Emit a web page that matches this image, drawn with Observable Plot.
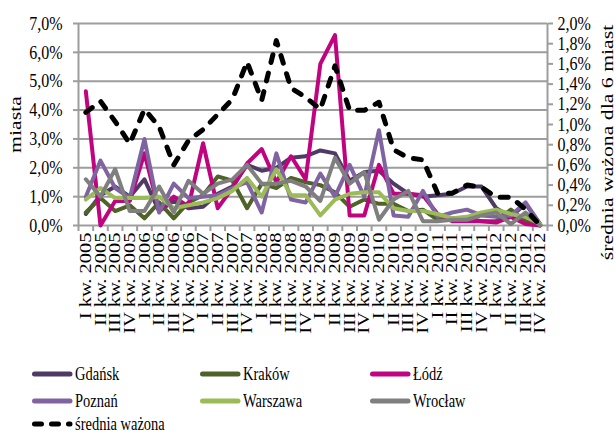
<!DOCTYPE html>
<html><head><meta charset="utf-8">
<script src="https://cdn.jsdelivr.net/npm/d3@7"></script>
<script src="https://cdn.jsdelivr.net/npm/@observablehq/plot@0.6"></script>
<style>
body{margin:0;background:#fff;width:616px;height:434px;overflow:hidden;position:relative;font-family:'Liberation Serif','Times New Roman',serif;}
#legend{position:absolute;left:0;top:0;width:616px;height:434px;}
.item{position:absolute;display:flex;align-items:center;height:20px;white-space:nowrap}
.item span{display:inline-block;font-size:14.5px;transform:scaleY(1.3);transform-origin:center;line-height:14px;margin-left:1px;color:#000}
</style></head><body>
<div id="chart"></div><div id="legend"></div>
<script>
const quarters = ["I kw. 2005","II kw. 2005","III kw. 2005","IV kw. 2005",
  "I kw. 2006","II kw. 2006","III kw. 2006","IV kw. 2006",
  "I kw. 2007","II kw. 2007","III kw. 2007","IV kw. 2007",
  "I kw. 2008","II kw. 2008","III kw. 2008","IV kw. 2008",
  "I kw. 2009","II kw. 2009","III kw. 2009","IV kw. 2009",
  "I kw. 2010","II kw. 2010","III kw. 2010","IV kw. 2010",
  "I kw. 2011","II kw. 2011","III kw. 2011","IV kw. 2011",
  "I kw. 2012","II kw. 2012","III kw. 2012","IV kw. 2012"];
const cities = ["Gdańsk","Kraków","Łódź","Poznań","Warszawa","Wrocław"];
const colors = ["#4f3a66","#4f6228","#c0047f","#8064a2","#9bbb59","#7f7f7f"];
const gdansk   = [0.4,1.05,1.35,1.0,1.6,0.5,0.85,0.6,0.65,1.1,1.35,2.1,1.9,2.0,2.35,2.4,2.6,2.5,1.55,1.85,1.9,1.45,1.1,1.0,1.05,1.1,1.35,1.35,0.6,0.3,0.75,0.05];
const krakow   = [0.45,0.95,0.5,0.7,0.25,0.8,0.25,0.8,1.05,1.7,1.55,0.6,1.45,1.3,1.65,1.5,1.4,1.15,0.65,0.9,0.75,0.75,0.5,0.55,0.2,0.25,0.25,0.15,0.15,0.55,0.15,0.0];
const lodz     = [4.65,0.0,0.85,0.85,2.5,0.5,1.0,0.65,2.85,0.6,1.3,2.15,2.65,1.5,2.4,1.6,5.6,6.6,0.35,0.35,2.1,1.1,1.1,1.05,0.4,0.15,0.15,0.15,0.1,0.3,0.05,0.0];
const poznan   = [1.0,2.25,1.3,0.95,3.0,0.45,1.45,0.95,1.0,1.05,1.3,1.5,0.45,2.5,0.9,0.8,1.8,1.0,2.1,1.0,3.3,0.35,0.3,1.2,0.3,0.45,0.55,0.35,0.3,0.35,0.8,0.05];
const warszawa = [0.9,1.3,0.95,0.95,0.95,1.0,0.6,0.7,0.8,0.95,1.2,1.65,1.0,1.95,1.05,1.05,0.35,0.9,1.1,1.15,1.15,0.6,0.5,0.5,0.4,0.25,0.3,0.45,0.55,0.4,0.3,0.05];
const wroclaw  = [1.6,1.0,1.95,0.5,0.5,1.35,0.45,1.55,1.1,1.45,1.6,2.1,1.45,1.45,1.55,1.35,0.85,2.35,1.45,1.85,0.2,0.9,1.2,0.15,0.15,0.2,0.2,0.35,0.45,0.05,0.45,0.0];
const average  = [1.12,1.23,1.03,0.81,1.15,0.98,0.6,0.84,0.95,1.1,1.25,1.62,1.24,1.83,1.36,1.27,1.15,1.58,1.14,1.14,1.22,0.75,0.67,0.65,0.32,0.32,0.4,0.38,0.28,0.28,0.16,0.0];
const averageLabel = "średnia ważona";
const leftTicks = [0,1,2,3,4,5,6,7];
const rightTicks = [0,0.2,0.4,0.6,0.8,1.0,1.2,1.4,1.6,1.8,2.0];
const leftTitle = "miasta";
const rightTitle = "średnia ważona dla 6 miast";

const series = [gdansk, krakow, lodz, poznan, warszawa, wroclaw];
const ratio = leftTicks[leftTicks.length-1] / rightTicks[rightTicks.length-1];
const rows = cities.flatMap((c,k) => series[k].map((v,i) => ({city:c, i, v})));
const avgRows = average.map((v,i) => ({i, v}));
const pct = v => v.toFixed(1).replace(".", ",") + "%";
const grid = "#9d9d9d";

const chart = Plot.plot({
  width: 616, height: 352,
  marginLeft: 78, marginRight: 69, marginTop: 23, marginBottom: 127,
  x: {type: "linear", domain: [0, quarters.length]},
  y: {domain: [0, leftTicks[leftTicks.length-1]]},
  color: {domain: cities, range: colors},
  style: {fontFamily: "'Liberation Serif','Times New Roman',serif", fontSize: "16px", background: "#fff", color: "#000", overflow: "visible"},
  marks: [
    Plot.ruleY(leftTicks, {stroke: grid, strokeWidth: 2}),
    Plot.ruleX([0, quarters.length], {stroke: grid, strokeWidth: 2}),
    Plot.axisY({ticks: leftTicks, tickFormat: pct, tickSize: 5, tickPadding: 11, stroke: grid, strokeWidth: 2, label: null}),
    Plot.axisY({anchor: "right", ticks: rightTicks.map(t => t * ratio), tickFormat: d => pct(d / ratio), tickSize: 5, tickPadding: 5, stroke: grid, strokeWidth: 2, label: null}),
    Plot.axisX({ticks: d3.range(quarters.length + 1), tickFormat: () => "", tickSize: 6, stroke: grid, strokeWidth: 2, label: null}),
    Plot.axisX({ticks: quarters.map((q,i) => i + 0.5), tickFormat: d => quarters[Math.floor(d)], tickSize: 0, tickPadding: 7, tickRotate: -90, label: null}),
    Plot.line(rows, {x: d => d.i + 0.5, y: "v", z: "city", stroke: "city", strokeWidth: 4, strokeLinejoin: "round"}),
    Plot.line(avgRows, {x: d => d.i + 0.5, y: d => d.v * ratio, stroke: "#000", strokeWidth: 5, strokeDasharray: "8,11", strokeLinecap: "round"}),
    Plot.text([leftTitle], {frameAnchor: "left", dx: -63, rotate: -90, textAnchor: "middle", fontSize: 17}),
    Plot.text([rightTitle], {frameAnchor: "right", dx: 60, dy: 18, rotate: -90, textAnchor: "middle", fontSize: 17})
  ]
});
document.getElementById("chart").appendChild(chart);
chart.querySelectorAll("text").forEach(t => {
  const tr = t.getAttribute("transform");
  if (!tr) return;
  if (/rotate/.test(tr)) t.setAttribute("transform", tr + " scale(1.28,1)");
  else t.setAttribute("transform", tr + " scale(1,1.2)");
});

// legend
const legendItems = cities.map((c,k) => ({label: c, color: colors[k], dash: null}))
  .concat([{label: averageLabel, color: "#000", dash: "7,10"}]);
const colX = [32, 200, 370], rowY = [364, 391, 414];
const lg = d3.select("#legend");
legendItems.forEach((it, k) => {
  const div = lg.append("div").attr("class", "item")
    .style("left", colX[k % 3] + "px").style("top", rowY[Math.floor(k / 3)] + "px");
  const s = div.append("svg").attr("width", 42).attr("height", 20);
  s.append("line").attr("x1", 2.5).attr("x2", 38).attr("y1", 10).attr("y2", 10)
    .attr("stroke", it.color).attr("stroke-width", 5).attr("stroke-linecap", "round")
    .attr("stroke-dasharray", it.dash);
  div.append("span").text(it.label);
});
</script>
</body></html>
